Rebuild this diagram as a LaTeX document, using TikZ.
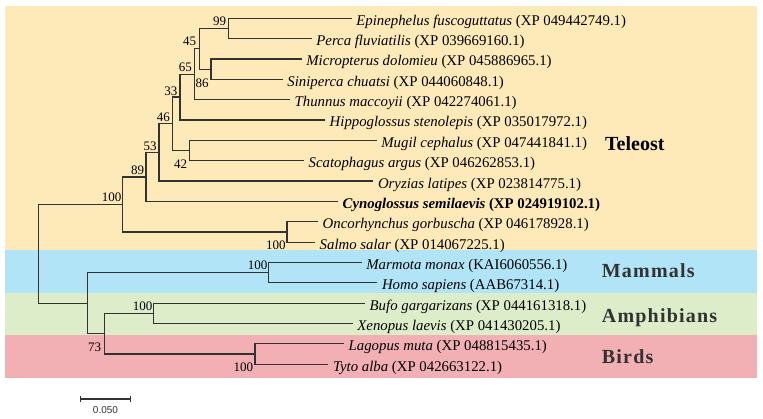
\documentclass[tikz,border=0pt]{standalone}
\usepackage{fontspec}
\setmainfont{Liberation Serif}
\newfontfamily\scalefont{Liberation Sans}
\newfontfamily\groupfont[LetterSpace=6]{Liberation Serif}
\usetikzlibrary{arrows.meta}

\definecolor{teleostbg}{RGB}{254,233,185}
\definecolor{mammalbg}{RGB}{176,228,246}
\definecolor{amphibbg}{RGB}{221,237,201}
\definecolor{birdbg}{RGB}{242,175,180}
\definecolor{branchcol}{RGB}{50,50,50}

\tikzset{
  branch/.style={line width=1.2pt, draw=branchcol},
  leaf/.style={anchor=west, inner xsep=4.5pt, inner ysep=0pt,
    text height=14pt, text depth=0pt, font=\fontsize{14.8}{16}\selectfont},
  boot/.style={inner sep=0pt, font=\fontsize{13}{14}\selectfont},
  group/.style={anchor=west, inner sep=0pt, text height=14pt, text depth=0pt,
    font=\fontsize{20}{22}\selectfont\bfseries},
}

\begin{document}
\begin{tikzpicture}[x=1pt, y=-1pt]
  \useasboundingbox (0,0) rectangle (763,419);
  % coloured bands for the four groups
  \fill[teleostbg] (5,6) rectangle (757,250);
  \fill[mammalbg] (5,250) rectangle (757,292.7);
  \fill[amphibbg] (5,292.7) rectangle (757,335);
  \fill[birdbg] (5,335) rectangle (757,378.3);

  % leaves (x = end of branch)
  \node[leaf] (epi) at (351.7,18.3) {\textit{Epinephelus fuscoguttatus} (XP 049442749.1)};
  \node[leaf] (per) at (311.7,38.65) {\textit{Perca fluviatilis} (XP 039669160.1)};
  \node[leaf] (mic) at (301.7,59.0) {\textit{Micropterus dolomieu} (XP 045886965.1)};
  \node[leaf] (sin) at (282.7,79.35) {\textit{Siniperca chuatsi} (XP 044060848.1)};
  \node[leaf] (thu) at (290,99.7) {\textit{Thunnus maccoyii} (XP 042274061.1)};
  \node[leaf] (hip) at (325,120.0) {\textit{Hippoglossus stenolepis} (XP 035017972.1)};
  \node[leaf] (mug) at (376.7,140.4) {\textit{Mugil cephalus} (XP 047441841.1)};
  \node[leaf] (sca) at (304,160.75) {\textit{Scatophagus argus} (XP 046262853.1)};
  \node[leaf] (ory) at (373.3,181.1) {\textit{Oryzias latipes} (XP 023814775.1)};
  \node[leaf] (cyn) at (338,201.45) {\textbf{\textit{Cynoglossus semilaevis} (XP 024919102.1)}};
  \node[leaf] (onc) at (318,221.8) {\textit{Oncorhynchus gorbuscha} (XP 046178928.1)};
  \node[leaf] (sal) at (315,242.15) {\textit{Salmo salar} (XP 014067225.1)};
  \node[leaf] (mar) at (361.7,262.5) {\textit{Marmota monax} (KAI6060556.1)};
  \node[leaf] (hom) at (377.3,282.85) {\textit{Homo sapiens} (AAB67314.1)};
  \node[leaf] (buf) at (365,303.2) {\textit{Bufo gargarizans} (XP 044161318.1)};
  \node[leaf] (xen) at (352.7,323.55) {\textit{Xenopus laevis} (XP 041430205.1)};
  \node[leaf] (lag) at (344,343.9) {\textit{Lagopus muta} (XP 048815435.1)};
  \node[leaf] (tyt) at (328.3,364.25) {\textit{Tyto alba} (XP 042663122.1)};

  % internal nodes
  \coordinate (n99) at (228.3,28.5);
  \coordinate (n86) at (211,69.2);
  \coordinate (n45) at (199.3,48.85);
  \coordinate (n65) at (194.3,74.3);
  \coordinate (n33) at (180,97.1);
  \coordinate (n42) at (189.7,150.6);
  \coordinate (n46) at (172.7,123.9);
  \coordinate (n53) at (159,152.5);
  \coordinate (n89) at (146,177.0);
  \coordinate (nsal) at (287,232.0);
  \coordinate (ntel) at (122.7,204.5);
  \coordinate (nmam) at (268.7,272.7);
  \coordinate (namp) at (153.7,313.4);
  \coordinate (nbird) at (255,354.1);
  \coordinate (n73) at (104.3,333.7);
  \coordinate (nout) at (87.7,303.2);
  \coordinate (root) at (38.7,253.9);

  % branches
  \draw[branch] (n99) |- (epi.west) (n99) |- (per.west);
  \draw[branch] (n86) |- (mic.west) (n86) |- (sin.west);
  \draw[branch] (n45) |- (n99) (n45) |- (n86);
  \draw[branch] (n65) |- (n45) (n65) |- (thu.west);
  \draw[branch] (n33) |- (n65) (n33) |- (hip.west);
  \draw[branch] (n42) |- (mug.west) (n42) |- (sca.west);
  \draw[branch] (n46) |- (n33) (n46) |- (n42);
  \draw[branch] (n53) |- (n46) (n53) |- (ory.west);
  \draw[branch] (n89) |- (n53) (n89) |- (cyn.west);
  \draw[branch] (nsal) |- (onc.west) (nsal) |- (sal.west);
  \draw[branch] (ntel) |- (n89) (ntel) |- (nsal);
  \draw[branch] (nmam) |- (mar.west) (nmam) |- (hom.west);
  \draw[branch] (namp) |- (buf.west) (namp) |- (xen.west);
  \draw[branch] (nbird) |- (lag.west) (nbird) |- (tyt.west);
  \draw[branch] (n73) |- (namp) (n73) |- (nbird);
  \draw[branch] (nout) |- (nmam) (nout) |- (n73);
  \draw[branch] (root) |- (ntel) (root) |- (nout);

  % bootstrap values
  \node[boot] (b99) at (219.5,21.5) {99};
  \node[boot] (b45) at (189.7,41.7) {45};
  \node[boot] (b65) at (185.3,67) {65};
  \node[boot] (b86) at (202,82.8) {86};
  \node[boot] (b33) at (170.8,91.2) {33};
  \node[boot] (b46) at (163.3,117) {46};
  \node[boot] (b53) at (150,146.2) {53};
  \node[boot] (b42) at (180.5,164.5) {42};
  \node[boot] (b89) at (137.5,170.2) {89};
  \node[boot] (btel) at (111.7,197.3) {100};
  \node[boot] (bsal) at (275.8,245) {100};
  \node[boot] (bmam) at (257.5,265) {100};
  \node[boot] (bamp) at (142.5,306) {100};
  \node[boot] (b73) at (94.7,347.3) {73};
  \node[boot] (bbird) at (243.3,367.3) {100};

  % group names
  \node[group] (teleost) at (605,144) {Teleost};
  \node[group, text=branchcol] (mammals) at (601.7,271) {\groupfont\bfseries Mammals};
  \node[group, text=branchcol] (amphib) at (601.7,316) {\groupfont\bfseries Amphibians};
  \node[group, text=branchcol] (birds) at (601.7,357) {\groupfont\bfseries Birds};

  % scale bar
  \coordinate (sb0) at (80,399);
  \coordinate (sb1) at (130.7,399);
  \draw[line width=1.1pt, draw=branchcol, {Bar[width=6pt]}-{Bar[width=6pt]}] (sb0) -- (sb1);
  \node[font=\scalefont\fontsize{10}{12}\selectfont, text=branchcol] (sblab) at (105.5,410) {0.050};
\end{tikzpicture}
\end{document}
